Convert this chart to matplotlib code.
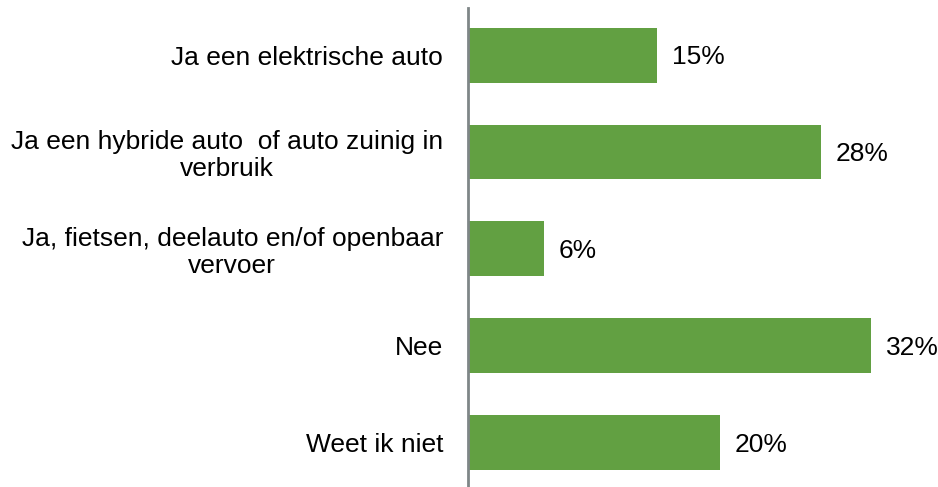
import matplotlib
matplotlib.use("Agg")
import matplotlib.pyplot as plt

plt.rcParams['font.family'] = ['Liberation Sans', 'DejaVu Sans']

labels = ["Ja een elektrische auto",
          "Ja een hybride auto  of auto zuinig in\nverbruik",
          "Ja, fietsen, deelauto en/of openbaar\nvervoer",
          "Nee",
          "Weet ik niet"]
values = [15, 28, 6, 32, 20]
value_labels = ["15%", "28%", "6%", "32%", "20%"]

fig = plt.figure(figsize=(9.38, 4.87), dpi=100)
ax = fig.add_axes([468 / 938, 0, 470 / 938, 479 / 487])

y = list(range(len(labels)))
ax.barh(y, values, height=0.567, color="#62A042")
for yi, v, t in zip(y, values, value_labels):
    ax.text(v + 1.2, yi + 0.02, t, va="center", ha="left", fontsize=19)

ax.set_xlim(0, 470 / 12.6)
ax.set_ylim(4.455, -0.485)
ax.set_yticks(y)
ax.set_yticklabels(labels, fontsize=19, multialignment="center", linespacing=1.15)
ax.tick_params(axis="y", length=0, pad=18)
ax.set_xticks([])
for s in ["top", "right", "bottom"]:
    ax.spines[s].set_visible(False)
ax.spines["left"].set_color("#7F8687")
ax.spines["left"].set_linewidth(2)

fig.savefig("out.png", dpi=100)
